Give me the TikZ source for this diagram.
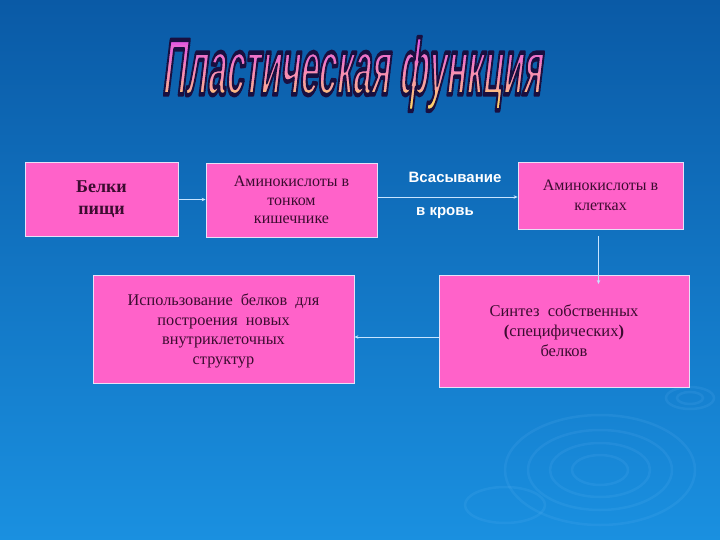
\documentclass[tikz,border=0pt]{standalone}
\usepackage{fontspec}
\usepackage{graphicx}
\setmainfont{Liberation Serif}
\newfontfamily\sansb{Liberation Sans}
\usetikzlibrary{arrows.meta}
\definecolor{bgtop}{HTML}{0A5AA6}
\definecolor{bgbot}{HTML}{1A90E0}
\definecolor{boxpink}{HTML}{FF62C9}
\definecolor{boxline}{HTML}{E8E0F8}
\definecolor{boxtext}{HTML}{3C0C30}
\definecolor{arrcol}{HTML}{C8E4FF}
\definecolor{ttop}{HTML}{E050E8}
\definecolor{tmid}{HTML}{F890B0}
\definecolor{tbot}{HTML}{FFE850}
\definecolor{ripple}{HTML}{7CC4FF}
\newcommand{\titletext}{\scalebox{0.55}[1.32]{\fontsize{60}{60}\selectfont\sansb\bfseries Пластическая функция}}
\newcommand{\outlined}[1]{\special{pdf:literal direct 2 Tr 3.4 w 1 j 0.10 0.06 0.25 RG}#1\special{pdf:literal direct 0 Tr 1 w 0 j}}
\begin{document}
\begin{tikzpicture}[x=1pt,y=-1pt,
  box/.style={draw=boxline, line width=0.8pt, fill=boxpink, text=boxtext, align=center, inner sep=0pt, font=\fontsize{16}{20}\selectfont},
  arr/.style={draw=arrcol, line width=0.8pt, -{Stealth[length=4pt,width=3.5pt]}},
  lbl/.style={text=white, font=\sansb\bfseries\fontsize{15}{18}\selectfont, inner sep=0pt},
  rip/.style={draw=ripple, line width=2.5pt, opacity=0.11},
  ttl/.style={inner sep=0pt, xslant=0.12, transform shape}]
\useasboundingbox (0,0) rectangle (720,540);
\shade[top color=bgtop, bottom color=bgbot] (0,0) rectangle (720,540);
% ripples
\draw[rip] (600,470) ellipse [x radius=95pt, y radius=55pt];
\draw[rip] (600,470) ellipse [x radius=72pt, y radius=40pt];
\draw[rip] (600,470) ellipse [x radius=50pt, y radius=27pt];
\draw[rip] (600,470) ellipse [x radius=28pt, y radius=15pt];
\draw[rip] (690,398) ellipse [x radius=24pt, y radius=11pt];
\draw[rip] (690,398) ellipse [x radius=13pt, y radius=6pt];
\draw[rip] (505,505) ellipse [x radius=40pt, y radius=18pt];
% title: gradient in horizontal bands, each with dark outline
\foreach \i/\c in {0/ttop,1/ttop!85!tmid,2/ttop!65!tmid,3/ttop!45!tmid,4/ttop!20!tmid,5/tmid,6/tmid!80!tbot,7/tmid!55!tbot,8/tmid!30!tbot,9/tbot}{
  \begin{scope}
    \clip (140,{28+9*\i}) rectangle (580,{28+9*(\i+1)});
    \node[ttl, text=\c] (t\i) at (354,74) {\outlined{\titletext}};
  \end{scope}
}
% boxes
\node[box, minimum width=153pt, minimum height=74pt, font=\bfseries\fontsize{18}{22}\selectfont] (b1) at (101.5,199) {Белки\\пищи};
\node[box, minimum width=171pt, minimum height=74pt, font=\fontsize{16}{18.5}\selectfont] (b2) at (291.5,200) {Аминокислоты в\\тонком\\кишечнике};
\node[box, minimum width=165pt, minimum height=67pt] (b3) at (600.5,195.5) {Аминокислоты в\\клетках};
\node[box, minimum width=261pt, minimum height=108pt, font=\fontsize{16.3}{19.5}\selectfont, text depth=0pt] (b4) at (223.5,329) {Использование \ белков \ для\\построения \ новых\\внутриклеточных\\структур};
\node[box, minimum width=250pt, minimum height=112pt, font=\fontsize{16.5}{20}\selectfont] (b5) at (564,331) {Синтез \ собственных\\\textbf{(}специфических\textbf{)}\\белков};
% labels
\node[lbl] (l1) at (455,177) {Всасывание};
\node[lbl] (l2) at (445,213) {в кровь};
% arrows
\draw[arr] (b1) -- (b2);
\draw[arr] (b2.east |- 0,197) -- (b3.west |- 0,197);
\draw[arr] ([xshift=-2pt,yshift=-7pt]b3.south) -- ([xshift=-2pt,yshift=-7pt]b3.south |- 0,277);
\draw[arr] (b5.west |- 0,337) -- (b4.east |- 0,337);
\end{tikzpicture}
\end{document}
